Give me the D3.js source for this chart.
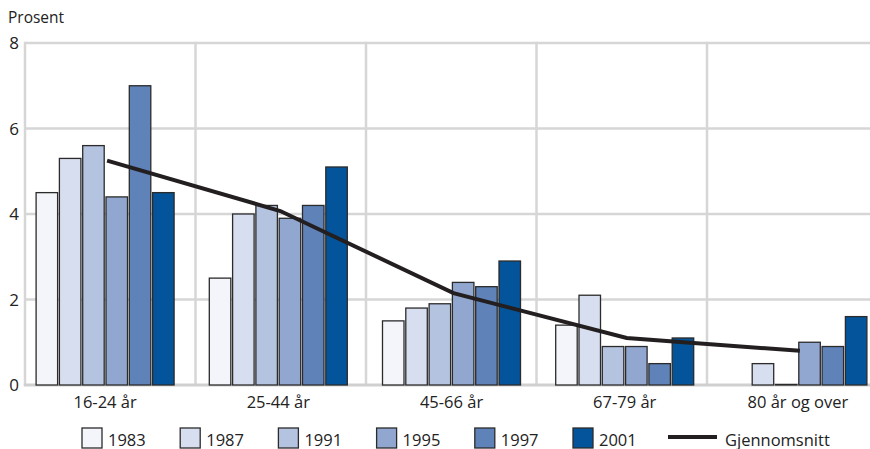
<!DOCTYPE html>
<meta charset="utf-8">
<style>
    body { margin: 0; background: #fff; }
    text { font-family: "Open Sans", sans-serif; fill: #222; }
</style>
<body>
<div id="chart"></div>
<script src="https://cdn.jsdelivr.net/npm/d3@7"></script>
<script>
    var groups = ['16-24 år', '25-44 år', '45-66 år', '67-79 år', '80 år og over'];
    var years = ['1983', '1987', '1991', '1995', '1997', '2001'];
    var colors = ['#f3f5fa', '#d7deef', '#b4c3e0', '#91a7d0', '#5f82b9', '#03549a'];

    // one array per year, one value per age group (null = no bar)
    var v1983 = [4.5, 2.5, 1.5, 1.4, null];
    var v1987 = [5.3, 4.0, 1.8, 2.1, 0.5];
    var v1991 = [5.6, 4.2, 1.9, 0.9, 0];
    var v1995 = [4.4, 3.9, 2.4, 0.9, 1.0];
    var v1997 = [7.0, 4.2, 2.3, 0.5, 0.9];
    var v2001 = [4.5, 5.1, 2.9, 1.1, 1.6];
    var series = [v1983, v1987, v1991, v1995, v1997, v2001];

    var average = [5.25, 4.07, 2.15, 1.1, 0.8];
    var yTicks = [0, 2, 4, 6, 8];

    var width = 870, height = 449;
    var plotLeft = 25, plotRight = 870, plotTop = 43, plotBottom = 385;

    var svg = d3.select('#chart').append('svg')
        .attr('width', width)
        .attr('height', height);

    var y = d3.scaleLinear().domain([0, 8]).range([plotBottom, plotTop]);

    // gridlines sit on the category boundaries
    var xGrid = d3.scaleBand().domain(groups).range([plotLeft, plotLeft + 5 * 170.5]);
    // bars are centred slightly differently
    var x = d3.scaleBand().domain(groups).range([18.5, 884.5]);
    var xInner = d3.scaleBand().domain(years).range([-69, 69]).paddingInner(0.077);

    // horizontal grid
    svg.append('g').selectAll('line')
        .data(yTicks.filter(function (d) { return d > 0; }))
        .enter().append('line')
        .attr('x1', plotLeft).attr('x2', plotRight)
        .attr('y1', function (d) { return y(d); })
        .attr('y2', function (d) { return y(d); })
        .attr('stroke', '#d6d6d6')
        .attr('stroke-width', 2.5);

    // vertical grid
    svg.append('g').selectAll('line')
        .data(groups)
        .enter().append('line')
        .attr('x1', function (d) { return xGrid(d); })
        .attr('x2', function (d) { return xGrid(d); })
        .attr('y1', plotTop - 1.25).attr('y2', plotBottom)
        .attr('stroke', '#d6d6d6')
        .attr('stroke-width', 2.5);

    // base line
    svg.append('line')
        .attr('x1', plotLeft - 1.25).attr('x2', plotRight)
        .attr('y1', y(0)).attr('y2', y(0))
        .attr('stroke', '#d0d0d0')
        .attr('stroke-width', 3);

    // y tick labels
    svg.append('g').selectAll('text')
        .data(yTicks)
        .enter().append('text')
        .attr('x', 19)
        .attr('y', function (d) { return y(d); })
        .attr('dy', '0.36em')
        .attr('text-anchor', 'end')
        .style('font-size', '17px')
        .text(function (d) { return d; });

    svg.append('text')
        .attr('x', 8).attr('y', 23)
        .style('font-size', '15.5px')
        .text('Prosent');

    // bars
    var barData = [];
    series.forEach(function (vals, si) {
        vals.forEach(function (v, gi) {
            if (v !== null) barData.push({ group: groups[gi], year: years[si], value: v, color: colors[si] });
        });
    });

    svg.append('g').selectAll('rect')
        .data(barData)
        .enter().append('rect')
        .attr('x', function (d) { return x(d.group) + x.bandwidth() / 2 + xInner(d.year); })
        .attr('width', xInner.bandwidth())
        .attr('y', function (d) { return Math.min(y(d.value), y(0) - 0.5); })
        // zero values still show as a thin outlined bar, like the original
        .attr('height', function (d) { return Math.max(y(0) - y(d.value), 0.5); })
        .attr('fill', function (d) { return d.color; })
        .attr('stroke', '#2b2b2b')
        .attr('stroke-width', 1.3);

    // average line
    var line = d3.line()
        .x(function (d, i) { return x(groups[i]) + x.bandwidth() / 2 + 2; })
        .y(function (d) { return y(d); });

    svg.append('path')
        .datum(average)
        .attr('d', line)
        .attr('fill', 'none')
        .attr('stroke', '#231f20')
        .attr('stroke-width', 4);

    // category labels
    svg.append('g').selectAll('text')
        .data(groups)
        .enter().append('text')
        .attr('x', function (d) { return x(d) + x.bandwidth() / 2; })
        .attr('y', 407.5)
        .attr('text-anchor', 'middle')
        .style('font-size', '16.5px')
        .text(function (d) { return d; });

    // legend
    var legend = svg.append('g').selectAll('g')
        .data(years)
        .enter().append('g')
        .attr('transform', function (d, i) { return 'translate(' + (82 + i * 98.2) + ',428)'; });

    legend.append('rect')
        .attr('width', 20).attr('height', 20)
        .attr('fill', function (d, i) { return colors[i]; })
        .attr('stroke', '#2b2b2b')
        .attr('stroke-width', 1.3);

    legend.append('text')
        .attr('x', 26).attr('y', 17.5)
        .style('font-size', '16.5px')
        .text(function (d) { return d; });

    svg.append('line')
        .attr('x1', 668).attr('x2', 717)
        .attr('y1', 437).attr('y2', 437)
        .attr('stroke', '#231f20')
        .attr('stroke-width', 4);

    svg.append('text')
        .attr('x', 725).attr('y', 445.5)
        .style('font-size', '16.5px')
        .text('Gjennomsnitt');
</script>
</body>
